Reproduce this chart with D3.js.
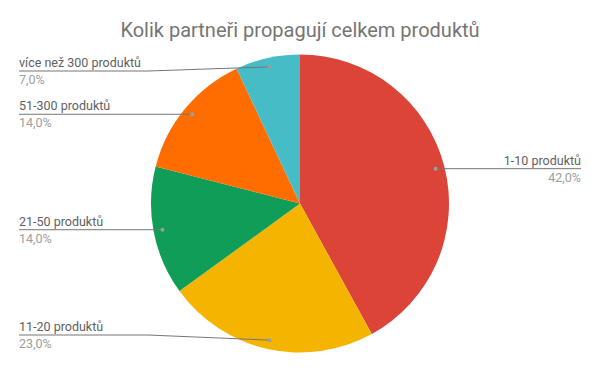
<!DOCTYPE html>
<html>
<head>
<meta charset="utf-8">
<script src="https://cdn.jsdelivr.net/npm/d3@7"></script>
<style>
  body { margin: 0; background: #fff; }
  svg { font-family: Roboto, "Noto Sans", sans-serif; }
</style>
</head>
<body>
<svg id="chart" width="600" height="371"></svg>
<script>
// data
const title = "Kolik partneři propagují celkem produktů";
const categories = ["1-10 produktů", "11-20 produktů", "21-50 produktů", "51-300 produktů", "více než 300 produktů"];
const values = [42, 23, 14, 14, 7];
const colors = ["#db4437", "#f4b400", "#0f9d58", "#ff6d00", "#46bdc6"];

const svg = d3.select("#chart");
const cx = 300, cy = 203.5, radius = 149;

svg.append("text")
  .attr("x", 300)
  .attr("y", 37)
  .attr("text-anchor", "middle")
  .attr("font-size", 20)
  .attr("fill", "#757575")
  .text(title);

const data = categories.map((c, i) => ({ label: c, value: values[i], color: colors[i] }));
const total = d3.sum(values);
const pct = d3.format(".1f");

const pie = d3.pie().sort(null).value(d => d.value);
const arcs = pie(data);

const arc = d3.arc().innerRadius(0).outerRadius(radius);

const g = svg.append("g").attr("transform", "translate(" + cx + "," + cy + ")");

g.selectAll("path.slice")
  .data(arcs)
  .enter()
  .append("path")
  .attr("class", "slice")
  .attr("d", arc)
  .attr("fill", d => d.data.color);

// labels
arcs.forEach(function (a) {
  const mid = (a.startAngle + a.endAngle) / 2;
  const dx = 140 * Math.sin(mid) + cx;
  const dy = -140 * Math.cos(mid) + cy;
  const right = mid < Math.PI;
  const ly = Math.max(71, Math.min(335, dy));
  let pts;
  let tx, anchor;
  if (right) {
    tx = 581; anchor = "end";
    pts = [[dx, dy], [tx, ly]];
  } else {
    tx = 19; anchor = "start";
    if (Math.abs(ly - dy) > 0.5) {
      pts = [[dx, dy], [148, ly], [tx, ly]];
    } else {
      pts = [[dx, ly], [tx, ly]];
    }
  }
  svg.append("path")
    .attr("d", d3.line()(pts))
    .attr("fill", "none")
    .attr("stroke", "#757575")
    .attr("stroke-width", 1);
  svg.append("circle")
    .attr("cx", dx)
    .attr("cy", dy)
    .attr("r", 2)
    .attr("fill", "#9e9e9e");
  svg.append("text")
    .attr("x", tx)
    .attr("y", ly - 4)
    .attr("text-anchor", anchor)
    .attr("font-size", 12.5)
    .attr("fill", "#616161")
    .text(a.data.label);
  svg.append("text")
    .attr("x", tx)
    .attr("y", ly + 13)
    .attr("text-anchor", anchor)
    .attr("font-size", 12.5)
    .attr("fill", "#9e9e9e")
    .text(pct(a.data.value / total * 100).replace(".", ",") + "%");
});
</script>
</body>
</html>
